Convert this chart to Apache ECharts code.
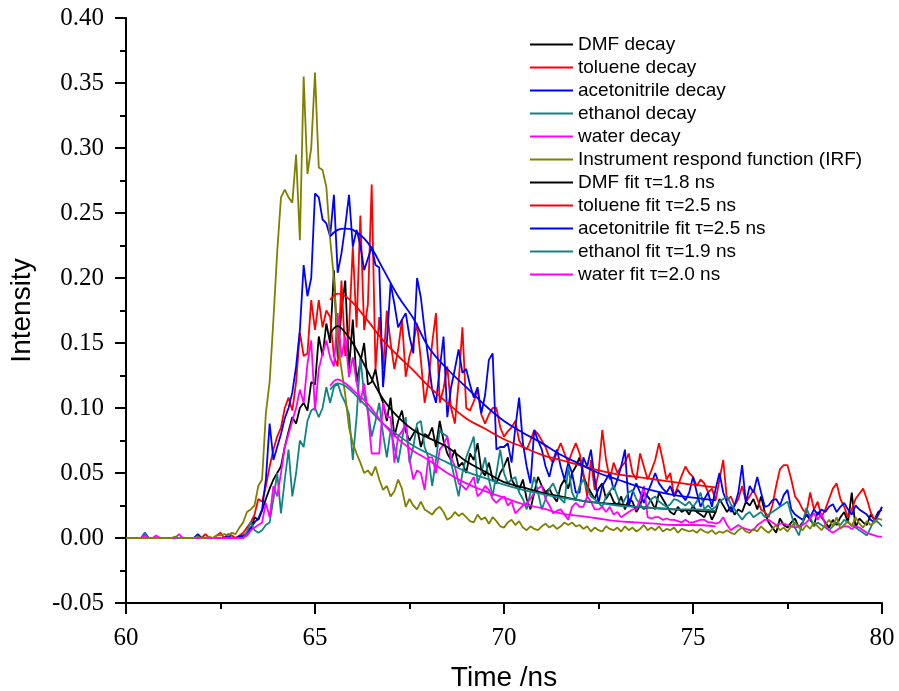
<!DOCTYPE html>
<html>
<head>
<meta charset="utf-8">
<script src="https://cdn.jsdelivr.net/npm/echarts@6/dist/echarts.min.js"></script>
<style>html,body{margin:0;padding:0;background:#fff}#c{width:899px;height:691px}</style>
</head>
<body>
<div id="c"></div>
<script>
// sampling times of the decay traces (ns)
const time = [
60.0,60.1,60.2,60.3,60.4,60.5,60.6,60.7,60.8,60.9,
61.0,61.1,61.2,61.3,61.4,61.5,61.6,61.7,61.8,61.9,
62.0,62.1,62.2,62.3,62.4,62.5,62.6,62.7,62.8,62.9,
63.0,63.1,63.2,63.3,63.4,63.5,63.6,63.7,63.8,63.9,
64.0,64.1,64.2,64.3,64.4,64.5,64.6,64.7,64.8,64.9,
65.0,65.1,65.2,65.3,65.4,65.5,65.6,65.7,65.8,65.9,
66.0,66.1,66.2,66.3,66.4,66.5,66.6,66.7,66.8,66.9,
67.0,67.1,67.2,67.3,67.4,67.5,67.6,67.7,67.8,67.9,
68.0,68.1,68.2,68.3,68.4,68.5,68.6,68.7,68.8,68.9,
69.0,69.1,69.2,69.3,69.4,69.5,69.6,69.7,69.8,69.9,
70.0,70.1,70.2,70.3,70.4,70.5,70.6,70.7,70.8,70.9,
71.0,71.1,71.2,71.3,71.4,71.5,71.6,71.7,71.8,71.9,
72.0,72.1,72.2,72.3,72.4,72.5,72.6,72.7,72.8,72.9,
73.0,73.1,73.2,73.3,73.4,73.5,73.6,73.7,73.8,73.9,
74.0,74.1,74.2,74.3,74.4,74.5,74.6,74.7,74.8,74.9,
75.0,75.1,75.2,75.3,75.4,75.5,75.6,75.7,75.8,75.9,
76.0,76.1,76.2,76.3,76.4,76.5,76.6,76.7,76.8,76.9,
77.0,77.1,77.2,77.3,77.4,77.5,77.6,77.7,77.8,77.9,
78.0,78.1,78.2,78.3,78.4,78.5,78.6,78.7,78.8,78.9,
79.0,79.1,79.2,79.3,79.4,79.5,79.6,79.7,79.8,79.9,
80.0];

const dmfDecay = [
0,0,0,0,0,0,0,0,0,0,
0,0,0,0,0,0,0,0,0,0,
0,0,0,0,0,0,0,0,0,0,
0,0.001,0.002,0.006,0.016,0.014,0.021,0.03,0.038,0.045,
0.05,0.055,0.07,0.082,0.093,0.088,0.1,0.104,0.098,0.12,
0.118,0.155,0.14,0.165,0.15,0.206,0.139,0.175,0.198,0.13,
0.168,0.12,0.135,0.15,0.118,0.12,0.13,0.112,0.104,0.09,
0.108,0.078,0.09,0.098,0.082,0.075,0.08,0.085,0.07,0.08,
0.078,0.085,0.07,0.09,0.075,0.065,0.06,0.068,0.055,0.058,
0.05,0.065,0.06,0.073,0.052,0.048,0.058,0.045,0.042,0.05,
0.055,0.062,0.045,0.04,0.037,0.045,0.03,0.022,0.035,0.047,
0.04,0.035,0.038,0.032,0.028,0.04,0.045,0.038,0.05,0.055,
0.062,0.048,0.04,0.035,0.03,0.038,0.042,0.03,0.035,0.028,
0.025,0.032,0.022,0.03,0.028,0.02,0.025,0.035,0.032,0.028,
0.022,0.035,0.03,0.025,0.02,0.018,0.024,0.02,0.022,0.018,
0.025,0.02,0.018,0.016,0.022,0.014,0.02,0.03,0.025,0.02,
0.024,0.018,0.022,0.02,0.028,0.025,0.03,0.022,0.032,0.02,
0.012,0.008,0.004,0.015,0.01,0.008,0.012,0.015,0.008,0.012,
0.018,0.014,0.01,0.02,0.016,0.012,0.008,0.014,0.01,0.016,
0.02,0.012,0.035,0.008,0.015,0.012,0.01,0.018,0.014,0.02,
0.022];

const tolueneDecay = [
0,0,0,0,0,0,0,0,0,0,
0,0,0,0,0,0,0,0,0,0,
0,0.003,0,0,0.002,0.004,0,0.003,0.002,0,
0.002,0.004,0.008,0.012,0.018,0.03,0.028,0.04,0.055,0.068,
0.078,0.085,0.1,0.108,0.098,0.12,0.158,0.14,0.142,0.183,
0.16,0.183,0.162,0.175,0.17,0.14,0.132,0.198,0.14,0.16,
0.224,0.162,0.248,0.16,0.18,0.272,0.13,0.17,0.13,0.175,
0.15,0.13,0.145,0.168,0.124,0.14,0.15,0.165,0.137,0.104,
0.12,0.15,0.173,0.104,0.115,0.132,0.1,0.088,0.12,0.162,
0.1,0.098,0.105,0.114,0.095,0.088,0.095,0.1,0.1,0.085,
0.078,0.082,0.085,0.09,0.075,0.07,0.068,0.075,0.083,0.08,
0.075,0.07,0.062,0.058,0.066,0.073,0.065,0.058,0.066,0.073,
0.065,0.05,0.032,0.06,0.037,0.05,0.083,0.06,0.045,0.058,
0.05,0.055,0.058,0.065,0.05,0.045,0.065,0.055,0.045,0.052,
0.06,0.073,0.06,0.045,0.05,0.032,0.04,0.048,0.055,0.05,
0.047,0.04,0.045,0.042,0.035,0.038,0.029,0.045,0.06,0.029,
0.032,0.025,0.03,0.04,0.028,0.032,0.037,0.03,0.022,0.02,
0.016,0.025,0.04,0.053,0.056,0.056,0.045,0.032,0.028,0.022,
0.019,0.035,0.022,0.028,0.016,0.022,0.03,0.038,0.042,0.03,
0.024,0.016,0.022,0.03,0.034,0.038,0.03,0.02,0.014,0.018,
0.024];

const acetonitrileDecay = [
0,0,0,0,0,0.004,0,0,0,0,
0,0,0,0,0,0,0,0,0,0.003,
0,0,0,0,0,0,0,0.002,0,0,
0.001,0.002,0.004,0.008,0.012,0.015,0.022,0.045,0.088,0.06,
0.07,0.08,0.092,0.1,0.112,0.132,0.16,0.21,0.186,0.2,
0.265,0.262,0.245,0.242,0.232,0.264,0.204,0.219,0.24,0.264,
0.224,0.237,0.225,0.206,0.215,0.224,0.21,0.208,0.116,0.15,
0.196,0.18,0.162,0.168,0.173,0.155,0.142,0.2,0.185,0.16,
0.137,0.114,0.104,0.13,0.155,0.093,0.116,0.13,0.145,0.127,
0.13,0.118,0.108,0.116,0.096,0.11,0.137,0.142,0.068,0.07,
0.07,0.073,0.058,0.085,0.108,0.073,0.055,0.042,0.083,0.075,
0.068,0.055,0.047,0.06,0.068,0.055,0.045,0.058,0.05,0.035,
0.035,0.062,0.055,0.068,0.045,0.027,0.04,0.045,0.05,0.037,
0.045,0.055,0.068,0.024,0.035,0.042,0.035,0.027,0.035,0.042,
0.05,0.042,0.038,0.035,0.04,0.032,0.037,0.033,0.029,0.035,
0.047,0.035,0.024,0.03,0.035,0.024,0.038,0.05,0.035,0.027,
0.02,0.025,0.035,0.056,0.027,0.04,0.035,0.047,0.035,0.024,
0.025,0.029,0.03,0.025,0.033,0.037,0.022,0.018,0.016,0.014,
0.018,0.016,0.022,0.018,0.022,0.02,0.024,0.026,0.02,0.024,
0.027,0.022,0.018,0.025,0.022,0.02,0.018,0.014,0.012,0.018,
0.024];

const ethanolDecay = [
0,0,0,0,0,0.004,0,0,0,0,
0,0,0,0,0,0,0,0,0,0,
0,0,0,0,0,0,0,0,0,0,
0,0,0.005,0.012,0.006,0.004,0.006,0.01,0.012,0.03,
0.05,0.019,0.045,0.068,0.032,0.05,0.075,0.07,0.09,0.098,
0.1,0.093,0.1,0.116,0.104,0.116,0.119,0.11,0.104,0.095,
0.06,0.093,0.139,0.11,0.098,0.078,0.09,0.104,0.08,0.062,
0.083,0.07,0.058,0.075,0.093,0.058,0.07,0.088,0.09,0.07,
0.062,0.04,0.06,0.083,0.08,0.078,0.058,0.045,0.032,0.05,
0.062,0.07,0.078,0.042,0.05,0.062,0.045,0.032,0.05,0.068,
0.05,0.042,0.045,0.047,0.035,0.03,0.022,0.035,0.047,0.035,
0.022,0.03,0.038,0.042,0.035,0.03,0.027,0.055,0.035,0.029,
0.04,0.045,0.038,0.032,0.03,0.027,0.024,0.032,0.036,0.04,
0.032,0.024,0.03,0.035,0.037,0.03,0.026,0.022,0.025,0.03,
0.032,0.028,0.026,0.024,0.026,0.03,0.029,0.027,0.025,0.028,
0.024,0.028,0.035,0.022,0.025,0.022,0.024,0.028,0.03,0.032,
0.026,0.022,0.018,0.014,0.018,0.02,0.016,0.018,0.02,0.016,
0.018,0.02,0.022,0.024,0.026,0.028,0.018,0.008,0.002,0.012,
0.023,0.016,0.009,0.012,0.01,0.008,0.006,0.009,0.012,0.01,
0.014,0.012,0.01,0.008,0.006,0.004,0.002,0.008,0.014,0.012,
0.009];

const waterDecay = [
0,0,0,0,0,0.002,0,0,0.002,0,
0,0,0,0,0.003,0,0,0,0,0,
0,0,0,0,0,0,0,0,0,0,
0,0,0.002,0.006,0.008,0.01,0.012,0.027,0.016,0.04,
0.032,0.05,0.07,0.08,0.09,0.1,0.114,0.104,0.134,0.152,
0.098,0.13,0.142,0.152,0.139,0.132,0.173,0.139,0.155,0.124,
0.139,0.12,0.104,0.119,0.096,0.065,0.065,0.065,0.104,0.093,
0.093,0.058,0.078,0.082,0.088,0.06,0.045,0.052,0.05,0.037,
0.062,0.062,0.05,0.068,0.072,0.078,0.062,0.055,0.042,0.04,
0.037,0.042,0.047,0.032,0.035,0.04,0.037,0.03,0.027,0.03,
0.032,0.025,0.028,0.019,0.022,0.025,0.027,0.03,0.035,0.038,
0.04,0.03,0.025,0.019,0.021,0.022,0.018,0.014,0.024,0.027,
0.024,0.024,0.032,0.028,0.022,0.022,0.024,0.02,0.024,0.018,
0.02,0.016,0.018,0.02,0.022,0.022,0.03,0.04,0.016,0.015,
0.016,0.016,0.014,0.015,0.014,0.014,0.013,0.012,0.014,0.012,
0.012,0.013,0.014,0.014,0.012,0.012,0.011,0.012,0.016,0.01,
0.006,0.008,0.01,0.008,0.007,0.006,0.006,0.01,0.012,0.014,
0.014,0.012,0.01,0.011,0.011,0.01,0.009,0.008,0.009,0.01,
0.012,0.015,0.019,0.014,0.019,0.01,0.006,0.004,0.006,0.008,
0.009,0.009,0.007,0.009,0.008,0.006,0.004,0.003,0.002,0.001,
0.001];

const irf = [
0,0,0,0,0,0,0,0,0,0,
0,0,0,0.001,0,0,0,0,0,0.001,
0,0,0.001,0,0.002,0.002,0.003,0.002,0.004,0.003,
0.008,0.012,0.02,0.022,0.025,0.04,0.045,0.096,0.12,0.168,
0.22,0.262,0.268,0.262,0.258,0.295,0.229,0.355,0.28,0.3,
0.358,0.285,0.283,0.27,0.23,0.2,0.15,0.13,0.11,0.085,
0.073,0.065,0.058,0.05,0.052,0.048,0.055,0.045,0.037,0.04,
0.032,0.036,0.045,0.038,0.024,0.03,0.025,0.022,0.028,0.022,
0.02,0.018,0.022,0.024,0.02,0.014,0.016,0.02,0.017,0.019,
0.016,0.013,0.012,0.018,0.014,0.016,0.011,0.016,0.013,0.009,
0.008,0.012,0.014,0.01,0.013,0.008,0.006,0.009,0.007,0.006,
0.009,0.011,0.008,0.01,0.007,0.009,0.012,0.01,0.012,0.009,
0.01,0.007,0.009,0.005,0.008,0.006,0.005,0.009,0.007,0.006,
0.008,0.005,0.009,0.006,0.008,0.005,0.007,0.01,0.006,0.008,
0.006,0.009,0.005,0.007,0.006,0.008,0.004,0.007,0.006,0.005,
0.006,0.004,0.007,0.005,0.004,0.006,0.003,0.005,0.004,0.006,
0.004,0.003,0.006,0.008,0.005,0.004,0.007,0.005,0.009,0.006,
0.004,0.007,0.01,0.006,0.008,0.005,0.009,0.012,0.008,0.006,
0.01,0.007,0.012,0.009,0.006,0.01,0.014,0.009,0.016,0.007,
0.01,0.013,0.009,0.016,0.011,0.008,0.013,0.01,0.012,0.015,
0.014];

// fitted curves
const fitTime = [65.4,65.6,65.8,66.0,66.4,66.8,67.2,67.6,68.0,68.5,69.0,69.5,70.0,70.5,71.0,71.5,72.0,72.5,73.0,73.5,74.0,74.5,75.0,75.6];
const dmfFit = [0.157,0.163,0.158,0.15,0.128,0.107,0.093,0.083,0.077,0.07,0.059,0.051,0.043,0.039,0.035,0.032,0.029,0.027,0.026,0.024,0.023,0.022,0.021,0.02];
const tolueneFit = [0.183,0.188,0.186,0.181,0.167,0.152,0.14,0.129,0.117,0.104,0.092,0.084,0.076,0.07,0.064,0.06,0.056,0.052,0.049,0.047,0.045,0.043,0.041,0.039];
const acetonitrileFit = [0.232,0.237,0.238,0.237,0.227,0.207,0.186,0.169,0.147,0.13,0.116,0.102,0.09,0.081,0.073,0.064,0.057,0.05,0.045,0.04,0.036,0.033,0.031,0.029];
const ethanolFit = [0.114,0.119,0.117,0.112,0.1,0.088,0.079,0.071,0.065,0.058,0.051,0.046,0.041,0.037,0.034,0.031,0.029,0.027,0.025,0.024,0.023,0.022,0.022,0.021];
const waterFit = [0.117,0.122,0.119,0.114,0.103,0.088,0.076,0.067,0.06,0.05,0.042,0.036,0.031,0.026,0.023,0.019,0.017,0.015,0.013,0.012,0.011,0.01,0.01,0.009];

const yTicks = [-0.05,0,0.05,0.1,0.15,0.2,0.25,0.3,0.35,0.4];
const xTicks = [60,65,70,75,80];

const names = ['DMF decay','toluene decay','acetonitrile decay','ethanol decay','water decay',
  'Instrument respond function (IRF)','DMF fit \u03c4=1.8 ns','toluene fit \u03c4=2.5 ns',
  'acetonitrile fit \u03c4=2.5 ns','ethanol fit \u03c4=1.9 ns','water fit \u03c4=2.0 ns'];
const colors = ['#000000','#ff0000','#0000ff','#108484','#ff00ff','#808000',
  '#000000','#ff0000','#0000ff','#108484','#ff00ff'];
const rawSets = [dmfDecay, tolueneDecay, acetonitrileDecay, ethanolDecay, waterDecay, irf];
const fitSets = [dmfFit, tolueneFit, acetonitrileFit, ethanolFit, waterFit];

const series = [];
rawSets.forEach((arr, k) => {
  series.push({
    name: names[k], type: 'line', showSymbol: false, symbol: 'none',
    data: time.map((t, i) => [t, arr[i]]),
    lineStyle: { color: colors[k], width: 1.8 }, itemStyle: { color: colors[k] },
    z: 2
  });
});
fitSets.forEach((arr, k) => {
  series.push({
    name: names[6 + k], type: 'line', showSymbol: false, symbol: 'none', smooth: 0.4,
    data: fitTime.map((t, i) => [t, arr[i]]),
    lineStyle: { color: colors[6 + k], width: 1.8 }, itemStyle: { color: colors[6 + k] },
    z: 3
  });
});

const chart = echarts.init(document.getElementById('c'), null, { renderer: 'canvas' });
chart.setOption({
  animation: false,
  backgroundColor: '#ffffff',
  grid: { left: 126, right: 17, top: 18, bottom: 88, containLabel: false, outerBoundsMode: 'none' },
  legend: {
    orient: 'vertical', left: 525, top: 30, itemWidth: 43, itemHeight: 2, itemGap: 4,
    icon: 'rect', data: names,
    textStyle: { fontFamily: 'Liberation Sans, Arial, sans-serif', fontSize: 19, color: '#000', lineHeight: 18 }
  },
  xAxis: {
    type: 'value', min: xTicks[0], max: xTicks[xTicks.length - 1], interval: 5,
    name: 'Time /ns', nameLocation: 'middle', nameGap: 61,
    nameTextStyle: { fontFamily: 'Liberation Sans, Arial, sans-serif', fontSize: 28, color: '#000' },
    axisLine: { onZero: false, lineStyle: { color: '#000', width: 2 } },
    axisTick: { show: true, inside: false, length: 11, lineStyle: { color: '#000', width: 2 } },
    minorTick: { show: true, splitNumber: 2, length: 6, lineStyle: { color: '#000', width: 2 } },
    axisLabel: { margin: 23, fontFamily: 'Liberation Serif, Times New Roman, serif', fontSize: 25, color: '#000' },
    splitLine: { show: false }
  },
  yAxis: {
    type: 'value', min: yTicks[0], max: yTicks[yTicks.length - 1], interval: 0.05,
    name: 'Intensity', nameLocation: 'middle', nameGap: 90,
    nameTextStyle: { fontFamily: 'Liberation Sans, Arial, sans-serif', fontSize: 28, color: '#000' },
    axisLine: { onZero: false, lineStyle: { color: '#000', width: 2 } },
    axisTick: { show: true, inside: false, length: 11, lineStyle: { color: '#000', width: 2 } },
    minorTick: { show: true, splitNumber: 2, length: 6, lineStyle: { color: '#000', width: 2 } },
    axisLabel: { margin: 22, fontFamily: 'Liberation Serif, Times New Roman, serif', fontSize: 25, color: '#000',
      formatter: v => v.toFixed(2) },
    splitLine: { show: false }
  },
  series: series
});
</script>
</body>
</html>
